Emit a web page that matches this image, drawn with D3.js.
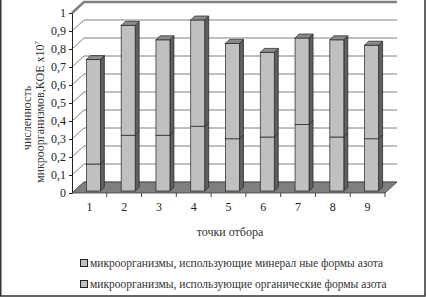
<!DOCTYPE html>
<html>
<head>
<meta charset="utf-8">
<script src="https://cdn.jsdelivr.net/npm/d3@7"></script>
<style>
  body { margin: 0; background: #fff; }
  svg { display: block; font-family: "Liberation Serif", "DejaVu Serif", serif; }
</style>
</head>
<body>
<div id="chart-area"></div>
<script>
// Data
const points = ['1', '2', '3', '4', '5', '6', '7', '8', '9'];
const mineral = [0.15, 0.31, 0.31, 0.36, 0.29, 0.30, 0.37, 0.30, 0.29];
const organic = [0.58, 0.61, 0.53, 0.59, 0.53, 0.47, 0.48, 0.54, 0.52];
const yTicks = [0, 0.1, 0.2, 0.3, 0.4, 0.5, 0.6, 0.7, 0.8, 0.9, 1];
const legendLabels = [
    'микроорганизмы, использующие минерал ные формы азота',
    'микроорганизмы, использующие органические формы азота'
];

const W = 426, H = 297;

// 3D offsets
const DX = 12, DY = -11;     // floor / wall depth
const OX = 4, OY = -2;       // bar front plane inside depth
const BX = 4, BY = -4;       // bar depth
const barW = 14;

const svg = d3.select('#chart-area')
    .append('svg')
    .attr('width', W)
    .attr('height', H);

// Scales
const x = d3.scaleBand()
    .domain(points)
    .range([72, 385]);

const y = d3.scaleLinear()
    .domain([0, 1])
    .range([193, 13]);

// Back wall gridlines + left wall diagonals
const grid = svg.append('g');
yTicks.forEach((t) => {
    grid.append('polyline')
        .attr('points', [[72, y(t)], [72 + DX, y(t) + DY], [385 + DX, y(t) + DY]].join(' '))
        .attr('fill', 'none')
        .attr('stroke', '#808080')
        .attr('stroke-width', t === 1 ? 2.5 : 1);
});

// Y axis
const yAxisCall = d3.axisLeft(y)
    .tickValues(yTicks)
    .tickSize(3)
    .tickFormat((d) => String(d).replace('.', ','));
const yAxis = svg.append('g')
    .attr('transform', 'translate(72, 0)')
    .call(yAxisCall);
yAxis.select('.domain').attr('stroke', '#222');
yAxis.selectAll('line').attr('stroke', '#222');
yAxis.selectAll('text')
    .attr('font-family', '"Liberation Serif", serif')
    .attr('font-size', 12)
    .attr('fill', '#222');

// Floor
svg.append('polygon')
    .attr('points', [[72, y(0)], [385, y(0)], [385 + DX, y(0) + DY], [72 + DX, y(0) + DY]].join(' '))
    .attr('fill', '#7f7f7f')
    .attr('stroke', '#404040')
    .attr('stroke-width', 0.8);

// X axis ticks and labels
const xAxisCall = d3.axisBottom(x).tickSize(0).tickPadding(9);
const xAxis = svg.append('g')
    .attr('transform', 'translate(0, ' + y(0) + ')')
    .call(xAxisCall);
xAxis.select('.domain').remove();
xAxis.selectAll('text')
    .attr('font-family', '"Liberation Serif", serif')
    .attr('font-size', 12)
    .attr('fill', '#222');
svg.append('g')
    .selectAll('line')
    .data(points.slice(1).concat(['end']))
    .enter()
    .append('line')
    .attr('x1', (d) => d === 'end' ? 385 : x(d))
    .attr('x2', (d) => d === 'end' ? 385 : x(d))
    .attr('y1', y(0))
    .attr('y2', y(0) + 4)
    .attr('stroke', '#444');

// Stacked bars
const table = points.map((p, i) => ({ point: p, mineral: mineral[i], organic: organic[i] }));
const stack = d3.stack().keys(['mineral', 'organic'])(table);
const base = y(0) + OY;
const yb = (v) => base - (y(0) - y(v));

const bars = svg.append('g');
stack.forEach((layer, li) => {
    layer.forEach((seg) => {
        const x0 = x(seg.data.point) + (x.bandwidth() - barW) / 2 + OX;
        const x1 = x0 + barW;
        const yTop = yb(seg[1]);
        const yBot = yb(seg[0]);
        // side
        bars.append('polygon')
            .attr('points', [[x1, yBot], [x1 + BX, yBot + BY], [x1 + BX, yTop + BY], [x1, yTop]].join(' '))
            .attr('fill', '#5f5f5f')
            .attr('stroke', '#222')
            .attr('stroke-width', 0.7);
        // front
        bars.append('rect')
            .attr('x', x0)
            .attr('y', yTop)
            .attr('width', barW)
            .attr('height', yBot - yTop)
            .attr('fill', '#c0c0c0')
            .attr('stroke', '#222')
            .attr('stroke-width', 0.7);
        // top
        if (li === stack.length - 1) {
            bars.append('polygon')
                .attr('points', [[x0, yTop], [x1, yTop], [x1 + BX, yTop + BY], [x0 + BX, yTop + BY]].join(' '))
                .attr('fill', '#8a8a8a')
                .attr('stroke', '#222')
                .attr('stroke-width', 0.7);
        }
    });
});

// Y title
const yTitle = svg.append('g').attr('fill', '#333').attr('font-size', 12);
yTitle.append('text')
    .attr('transform', 'translate(31, 118) rotate(-90)')
    .attr('text-anchor', 'middle')
    .text('численность');
const t2 = yTitle.append('text')
    .attr('transform', 'translate(44, 112) rotate(-90)')
    .attr('text-anchor', 'middle');
t2.append('tspan').text('микроорганизмов,КОЕ х10');
t2.append('tspan').attr('font-size', 7).attr('dy', -5).text('7');

// X title
svg.append('text')
    .attr('x', 230)
    .attr('y', 236)
    .attr('text-anchor', 'middle')
    .attr('font-size', 12)
    .attr('fill', '#333')
    .text('точки отбора');

// Legend
const legend = svg.append('g');
legendLabels.forEach((label, i) => {
    const ly = 263 + i * 21;
    legend.append('rect')
        .attr('x', 80.5)
        .attr('y', ly - 3.5)
        .attr('width', 7)
        .attr('height', 7)
        .attr('fill', '#c0c0c0')
        .attr('stroke', '#222');
    legend.append('text')
        .attr('x', 90)
        .attr('y', ly + 4)
        .attr('font-size', 11.5)
        .attr('fill', '#333')
        .text(label);
});

// Outer frame
svg.append('path')
    .attr('d', 'M0.75,0 V' + (H - 1) + ' H' + (W - 1) + ' V0')
    .attr('fill', 'none')
    .attr('stroke', '#333')
    .attr('stroke-width', 1.5);
</script>
</body>
</html>
